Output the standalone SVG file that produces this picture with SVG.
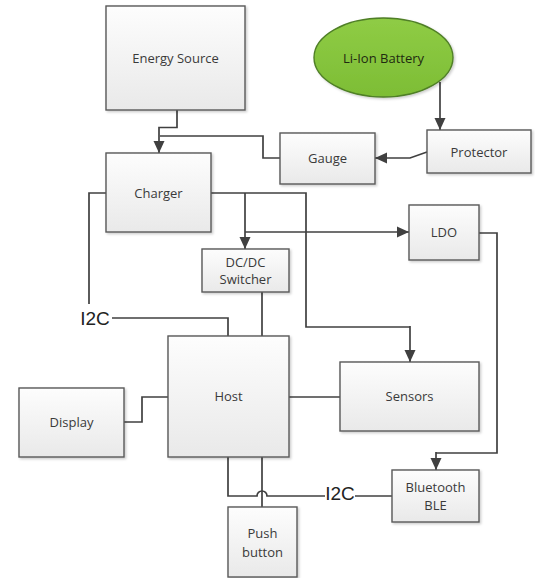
<svg xmlns="http://www.w3.org/2000/svg" width="535" height="578" viewBox="0 0 535 578">
<style>
.box{fill:url(#g);stroke:#595959;stroke-width:1.4;filter:url(#sh)}
.t{font-family:"Open Sans","Liberation Sans",sans-serif;font-size:13px;fill:#3a3a3a;text-anchor:middle;dominant-baseline:central}
.lbl{font-family:"Liberation Sans",Arial,sans-serif;font-size:19px;fill:#222;text-anchor:middle;dominant-baseline:central}
.c{fill:none;stroke:#404040;stroke-width:1.7}
.a{marker-end:url(#ar)}
</style>
<defs>
<linearGradient id="g" x1="0" y1="0" x2="0" y2="1"><stop offset="0" stop-color="#fdfdfd"/><stop offset="1" stop-color="#e9e9e9"/></linearGradient>
<linearGradient id="gg" x1="0" y1="0" x2="0" y2="1"><stop offset="0" stop-color="#8fcc45"/><stop offset="1" stop-color="#7dbd35"/></linearGradient>
<filter id="sh" x="-10%" y="-10%" width="130%" height="130%"><feDropShadow dx="1.5" dy="1.5" stdDeviation="1" flood-color="#000" flood-opacity="0.2"/></filter>
<marker id="ar" markerWidth="13" markerHeight="13" refX="12" refY="6.5" orient="auto" markerUnits="userSpaceOnUse"><path d="M0,1 L12,6.5 L0,12 z" fill="#404040"/></marker>
</defs>
<g id="connectors">
<path class="c a" d="M177,110 V127.5 H159 V153"/>
<path class="c" d="M280,158 H263 V136 H160"/>
<path class="c a" d="M440,82 V130"/>
<path class="c a" d="M427,152 L410,158 H375"/>
<path class="c" d="M211,193 H306 V327 H410"/>
<path class="c a" d="M410,326 V362"/>
<path class="c a" d="M245,193 V249"/>
<path class="c a" d="M245,232 H409"/>
<path class="c" d="M479,233 H497 V453 H436"/>
<path class="c a" d="M436,452 V470"/>
<path class="c" d="M262,292 V336"/>
<path class="c" d="M106,193 H89 V304"/>
<path class="c" d="M112,318 H228 V336"/>
<path class="c" d="M124,422 H142 V397 H168"/>
<path class="c" d="M289,397 H340"/>
<path class="c" d="M228,457 V496 H257 A5,5 0 0 1 267,496 H325"/>
<path class="c" d="M355,496 H392"/>
<path class="c" d="M262,457 V507"/>
<text class="lbl" x="95" y="318">I2C</text>
<text class="lbl" x="340" y="493">I2C</text>
</g>
<g id="energy"><rect class="box" x="106" y="6" width="139" height="104"/><text class="t" x="175.5" y="58">Energy Source</text></g>
<g id="battery"><ellipse cx="383.5" cy="57.5" rx="69.5" ry="39.5" fill="url(#gg)" stroke="#4f7f26" stroke-width="1.4" filter="url(#sh)"/><text class="t" x="383.5" y="58" style="fill:#1f2a10">Li-Ion Battery</text></g>
<g id="charger"><rect class="box" x="106" y="153" width="105" height="79"/><text class="t" x="158.5" y="193">Charger</text></g>
<g id="gauge"><rect class="box" x="280" y="133" width="95" height="51"/><text class="t" x="327.5" y="158">Gauge</text></g>
<g id="protector"><rect class="box" x="427" y="130" width="104" height="43"/><text class="t" x="479" y="152">Protector</text></g>
<g id="dcdc"><rect class="box" x="202" y="249" width="87" height="43"/><text class="t" x="245.5" y="262">DC/DC</text><text class="t" x="245.5" y="279">Switcher</text></g>
<g id="ldo"><rect class="box" x="409" y="205" width="70" height="55"/><text class="t" x="444" y="232">LDO</text></g>
<g id="sensors"><rect class="box" x="340" y="362" width="139" height="69"/><text class="t" x="409.5" y="396">Sensors</text></g>
<g id="host"><rect class="box" x="168" y="336" width="121" height="121"/><text class="t" x="228.5" y="396">Host</text></g>
<g id="display"><rect class="box" x="19" y="388" width="105" height="69"/><text class="t" x="71.5" y="422">Display</text></g>
<g id="push"><rect class="box" x="228" y="507" width="69" height="70"/><text class="t" x="262.5" y="533">Push</text><text class="t" x="262.5" y="552">button</text></g>
<g id="bluetooth"><rect class="box" x="392" y="470" width="87" height="52"/><text class="t" x="435.5" y="487">Bluetooth</text><text class="t" x="435.5" y="505">BLE</text></g>
</svg>
